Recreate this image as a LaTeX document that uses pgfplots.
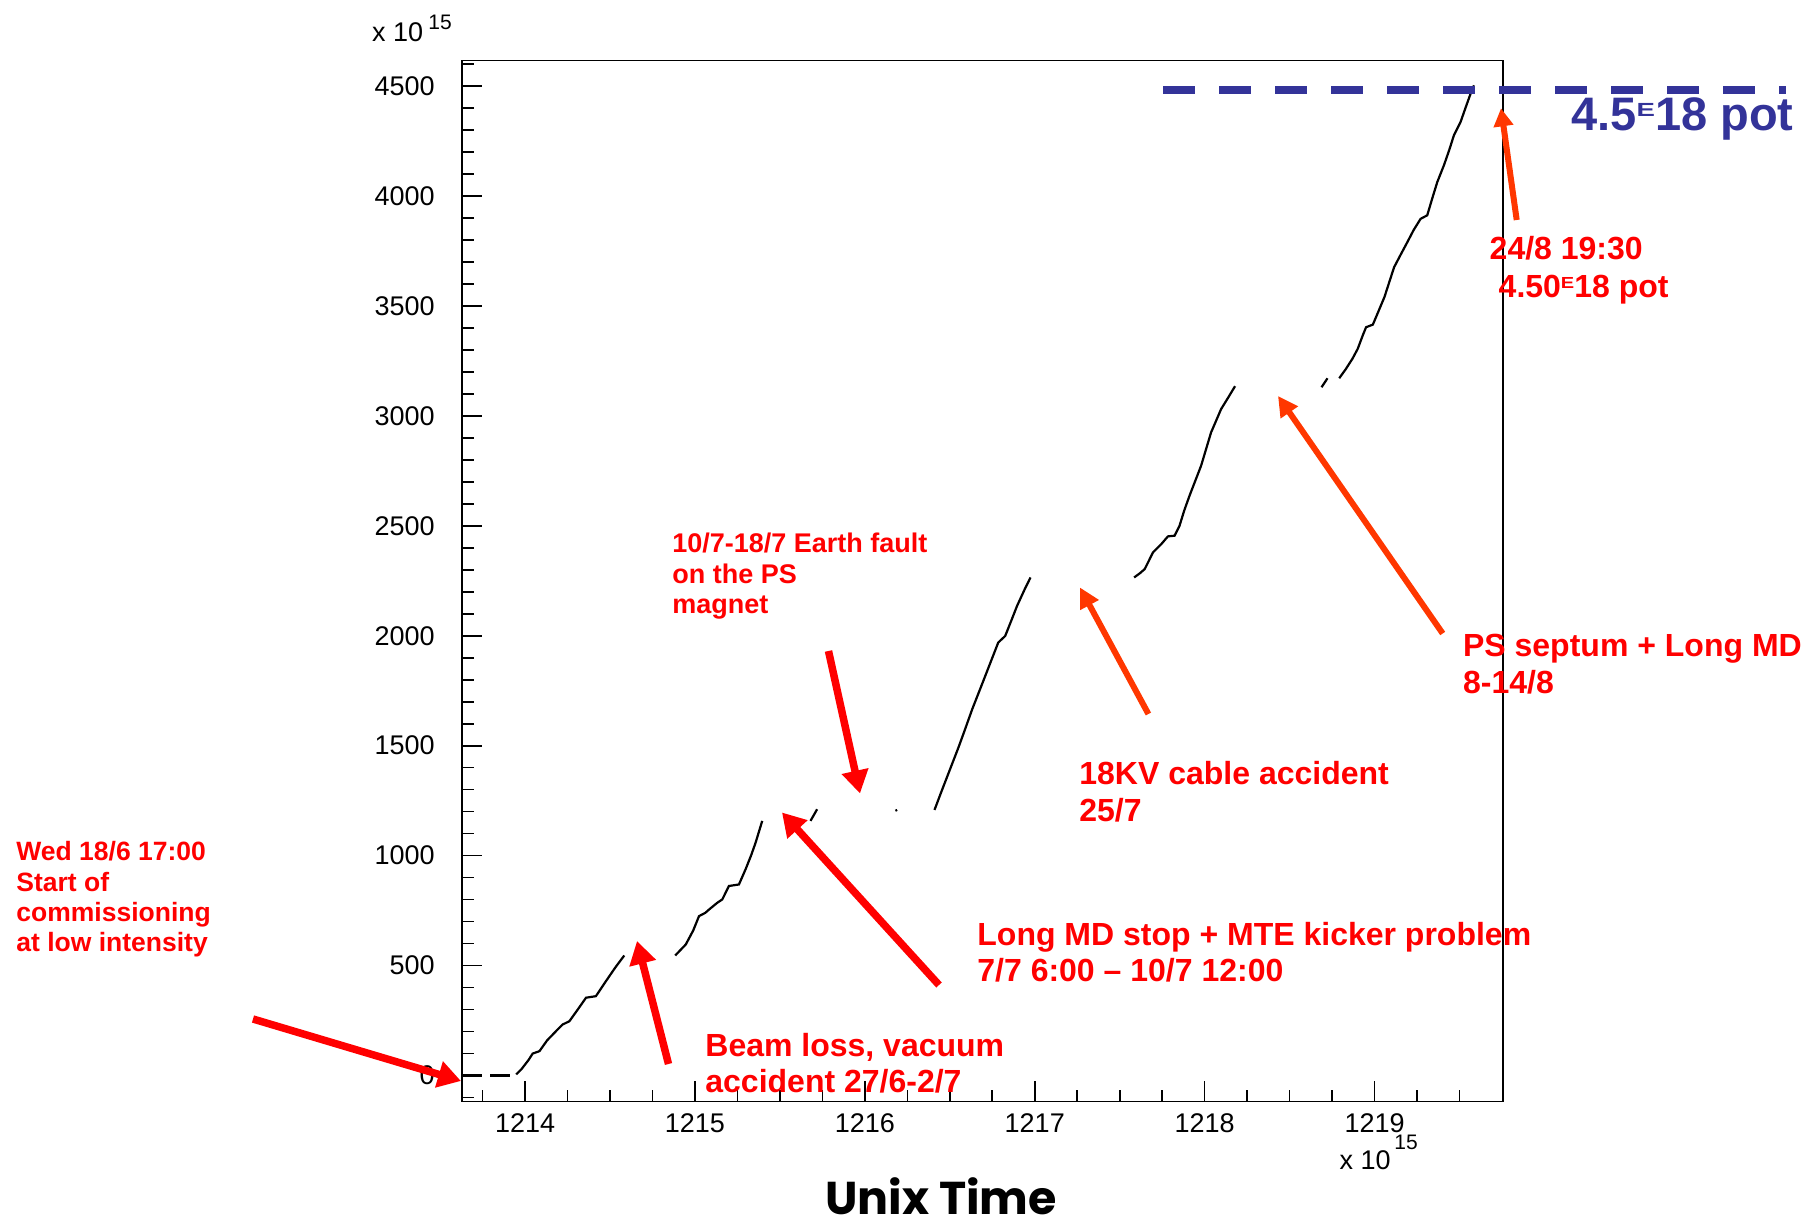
\documentclass[border=0pt]{standalone}
\usepackage{fontspec}
\setmainfont{Liberation Sans}
\newfontfamily\unixfont{Poppins}
\usepackage{graphicx}
\usepackage{pgfplots}
\pgfplotsset{compat=1.18}
\usetikzlibrary{arrows.meta}
\definecolor{annred}{RGB}{255,0,0}
\definecolor{annorange}{RGB}{255,55,0}
\definecolor{potblue}{RGB}{51,51,153}
\newcommand{\fs}[1]{\fontsize{#1}{#1}\selectfont}
\begin{document}
\begin{tikzpicture}
\path[use as bounding box] (0,0) rectangle (908.5pt,-614.5pt);
\begin{axis}[
  at={(231pt,-550.75pt)}, anchor=south west,
  scale only axis, width=520.5pt, height=520.5pt,
  xmin=1213.629, xmax=1219.756, ymin=-118, ymax=4616,
  clip=false,
  axis line style={line width=0.9pt},
  xtick={1214,1215,1216,1217,1218,1219},
  xticklabels={1214,1215,1216,1217,1218,1219},
  minor xtick={1213.75,1214.25,1214.5,1214.75,1215.25,1215.5,1215.75,1216.25,1216.5,1216.75,1217.25,1217.5,1217.75,1218.25,1218.5,1218.75,1219.25,1219.5},
  ytick={0,500,1000,1500,2000,2500,3000,3500,4000,4500},
  yticklabels={0,500,1000,1500,2000,2500,3000,3500,4000,4500},
  minor ytick={-100,100,200,300,400,600,700,800,900,1100,1200,1300,1400,1600,1700,1800,1900,2100,2200,2300,2400,2600,2700,2800,2900,3100,3200,3300,3400,3600,3700,3800,3900,4100,4200,4300,4400,4600},
  tick align=inside, xtick pos=left, ytick pos=left,
  major tick length=10pt, minor tick length=5.75pt,
  every tick/.style={black, line width=0.8pt},
  /pgf/number format/assume math mode=true,
  tick label style={font=\fs{13.5}},
  xticklabel style={anchor=north, inner sep=0pt, yshift=-6pt},
  yticklabel style={anchor=east, inner sep=0pt, xshift=-13.5pt},
]
% flat start
\addplot[black, line width=1.1pt, dash pattern=on 10pt off 4pt] coordinates {(1213.63,0) (1213.948,0)};
% segment 1
\addplot[black, line width=1.1pt] coordinates {
(1213.948,5) (1213.98,30) (1214.02,70) (1214.045,100) (1214.085,111) (1214.13,160)
(1214.18,200) (1214.221,232) (1214.261,247) (1214.31,300) (1214.359,354) (1214.417,361)
(1214.476,429) (1214.53,490) (1214.584,546)};
% segment 2
\addplot[black, line width=1.1pt] coordinates {
(1214.884,546) (1214.946,596) (1214.99,660) (1215.024,725) (1215.061,740) (1215.083,755)
(1215.132,786) (1215.161,801) (1215.2,862) (1215.259,869) (1215.298,938) (1215.33,1000)
(1215.357,1059) (1215.396,1158)};
% segment 3
\addplot[black, line width=1.1pt] coordinates {(1215.68,1158) (1215.70,1185) (1215.719,1211)};
% dot
\addplot[black, line width=1.1pt] coordinates {(1216.18,1204) (1216.19,1208)};
% segment 4
\addplot[black, line width=1.1pt] coordinates {
(1216.41,1208) (1216.45,1290) (1216.5,1390) (1216.55,1490) (1216.59,1575) (1216.632,1666)
(1216.701,1802) (1216.785,1969) (1216.826,1999) (1216.86,2065) (1216.896,2136) (1216.94,2210)
(1216.975,2265)};
% segment 5
\addplot[black, line width=1.1pt] coordinates {
(1217.585,2265) (1217.62,2285) (1217.647,2303) (1217.696,2379) (1217.745,2417) (1217.784,2452)
(1217.823,2455) (1217.852,2500) (1217.88,2570) (1217.911,2637) (1217.945,2705) (1217.979,2773)
(1218.038,2925) (1218.097,3031) (1218.14,3085) (1218.179,3135)};
% segment 6
\addplot[black, line width=1.1pt] coordinates {(1218.688,3130) (1218.705,3150) (1218.723,3171)};
\addplot[black, line width=1.1pt] coordinates {
(1218.792,3171) (1218.831,3213) (1218.87,3260) (1218.901,3305) (1218.93,3365) (1218.95,3403)
(1218.99,3415) (1219.02,3470) (1219.058,3540) (1219.115,3676) (1219.155,3735) (1219.193,3790)
(1219.23,3845) (1219.271,3896) (1219.31,3912) (1219.34,3990) (1219.369,4063) (1219.408,4139)
(1219.44,4210) (1219.467,4276) (1219.506,4336) (1219.535,4400) (1219.565,4465) (1219.585,4503)};
% target line
\addplot[potblue, line width=3.75pt, dash pattern=on 16pt off 12pt] coordinates {(1217.755,4482) (1221.419,4482)};
\end{axis}
\begin{scope}[x=0.5pt,y=-0.5pt]
% multiplier labels
\node[anchor=base west, inner sep=0pt, font=\fs{13.5}] at (371.7,41.7) {x 10};
\node[anchor=base west, inner sep=0pt, font=\fs{10.5}] at (428,30) {15};
\node[anchor=base west, inner sep=0pt, font=\fs{13.5}] at (1339.3,1169) {x 10};
\node[anchor=base west, inner sep=0pt, font=\fs{10.5}] at (1394,1149.3) {15};
% axis title
\node[anchor=base west, inner sep=0pt, font=\unixfont\bfseries\fs{23}] at (825,1214) {Unix Time};
% arrows
\draw[annred, line width=3.75pt, -{Triangle[length=11.5pt,width=13pt]}] (253,1019) -- (461,1081);
\draw[annred, line width=3.75pt, -{Triangle[length=11.5pt,width=13pt]}] (668.5,1064) -- (637,941);
\draw[annred, line width=3.75pt, -{Triangle[length=11.5pt,width=13pt]}] (939,985) -- (782,812.5);
\draw[annred, line width=3.75pt, -{Triangle[length=11.5pt,width=13pt]}] (828.5,651) -- (860,793.5);
\draw[annorange, line width=3pt, -{Triangle[length=10pt,width=10pt]}] (1148.4,714) -- (1080,587.5);
\draw[annorange, line width=3pt, -{Triangle[length=10pt,width=10pt]}] (1442.7,633.5) -- (1278,396);
\draw[annorange, line width=3pt, -{Triangle[length=9pt,width=9.5pt]}] (1516.7,220) -- (1501,108.3);
% annotation texts
\begin{scope}[every node/.style={anchor=base west, inner sep=0pt, text=annred}]
\node[font=\bfseries\fs{13.25}] at (16,860.7) {Wed 18/6 17:00};
\node[font=\bfseries\fs{13.25}] at (16,891.7) {Start of};
\node[font=\bfseries\fs{13.25}] at (16,921.7) {commissioning};
\node[font=\bfseries\fs{13.25}] at (16,951.7) {at low intensity};
\node[font=\bfseries\fs{13.5}] at (672,552.7) {10/7-18/7 Earth fault};
\node[font=\bfseries\fs{13.5}] at (672,583.3) {on the PS};
\node[font=\bfseries\fs{13.5}] at (672,613.3) {magnet};
\node[font=\bfseries\fs{16}] at (705,1056.7) {Beam loss, vacuum};
\node[font=\bfseries\fs{16}] at (705,1092.7) {accident 27/6-2/7};
\node[font=\bfseries\fs{16}] at (977,945) {Long MD stop + MTE kicker problem};
\node[font=\bfseries\fs{16}] at (977,981.7) {7/7 6:00 – 10/7 12:00};
\node[font=\bfseries\fs{16}] at (1079,785) {18KV cable accident};
\node[font=\bfseries\fs{16}] at (1079,821.7) {25/7};
\node[font=\bfseries\fs{16}] at (1462.7,656.7) {PS septum + Long MD};
\node[font=\bfseries\fs{16}] at (1462.7,694) {8-14/8};
\node[font=\bfseries\fs{16}] at (1489.3,260) {24/8 19:30};
\node[font=\bfseries\fs{16}] at (1498.3,297.3) {4.50\raisebox{4.5pt}{\fs{8}\scalebox{1.25}[1]{E}}18 pot};
\end{scope}
\node[anchor=base west, inner sep=0pt, text=potblue, font=\bfseries\fs{23.5}] at (1571,130.7) {4.5\raisebox{7.3pt}{\fs{9.5}\scalebox{1.45}[1]{E}}18 pot};
\end{scope}
\end{tikzpicture}
\end{document}
